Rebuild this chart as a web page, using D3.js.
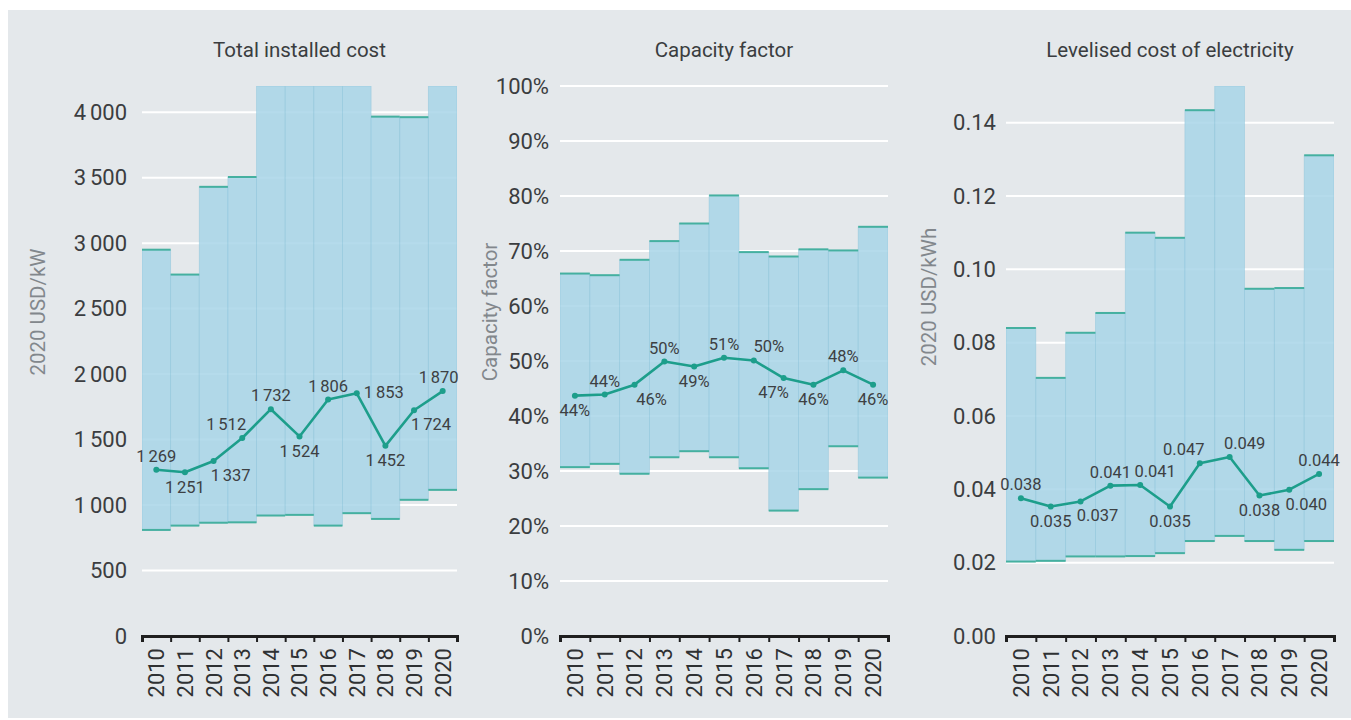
<!DOCTYPE html>
<html>
<head>
<meta charset="utf-8">
<script src="https://cdn.jsdelivr.net/npm/d3@7"></script>
<style>
  html, body { margin: 0; padding: 0; background: #ffffff; }
  svg { display: block; font-family: Roboto, "Open Sans", sans-serif; }
</style>
</head>
<body>
<svg id="chart" width="1351" height="720"></svg>
<script>
// Years shared by all three panels
const years = ["2010", "2011", "2012", "2013", "2014", "2015", "2016", "2017", "2018", "2019", "2020"];

// Total installed cost (2020 USD/kW): 5th / 95th percentile range and weighted average
const costLow  = [810, 843, 865, 868, 920, 925, 843, 938, 894, 1040, 1116];
const costHigh = [2950, 2760, 3430, 3505, 4200, 4200, 4200, 4200, 3966, 3962, 4200];
const costAvg  = [1269, 1251, 1337, 1512, 1732, 1524, 1806, 1853, 1452, 1724, 1870];
const costTicks = [0, 500, 1000, 1500, 2000, 2500, 3000, 3500, 4000];

// Capacity factor
const cfLow  = [0.307, 0.313, 0.295, 0.325, 0.336, 0.325, 0.305, 0.228, 0.267, 0.345, 0.288];
const cfHigh = [0.659, 0.656, 0.684, 0.718, 0.750, 0.801, 0.698, 0.690, 0.703, 0.701, 0.744];
const cfAvg  = [0.437, 0.439, 0.457, 0.499, 0.490, 0.506, 0.501, 0.469, 0.457, 0.483, 0.457];
const cfTicks = [0, 0.1, 0.2, 0.3, 0.4, 0.5, 0.6, 0.7, 0.8, 0.9, 1.0];

// Levelised cost of electricity (2020 USD/kWh)
const lcoeLow  = [0.0203, 0.0205, 0.0217, 0.0217, 0.0218, 0.0226, 0.0259, 0.0273, 0.0259, 0.0235, 0.0259];
const lcoeHigh = [0.0840, 0.0704, 0.0827, 0.0881, 0.1100, 0.1086, 0.1434, 0.1500, 0.0947, 0.0949, 0.1311];
const lcoeAvg  = [0.0376, 0.0353, 0.0367, 0.0410, 0.0412, 0.0353, 0.0471, 0.0488, 0.0383, 0.0399, 0.0442];
const lcoeTicks = [0, 0.02, 0.04, 0.06, 0.08, 0.10, 0.12, 0.14];

// Where each average label sits relative to its point
const costLabelPos = ["above", "below", "below-right", "above-left", "above", "below", "above", "right", "below", "below-right", "above"];
const cfLabelPos   = ["below", "above", "below-right", "above", "below", "above", "above-right", "below-left", "below", "above", "below"];
const lcoeLabelPos = ["above", "below", "below-right", "above", "above-right", "below", "above-left", "above-right", "below", "below-right", "above"];

// Thousands grouped with a narrow gap, e.g. "1 269"
const thinLocale = d3.formatLocale({ decimal: ".", thousands: "\u2006", grouping: [3], currency: ["", ""] });
const fmtCost = thinLocale.format(",d");
const fmtPct = d3.format(".0%");
const fmt3 = d3.format(".3f");
const fmt2 = d3.format(".2f");

const svg = d3.select("#chart");

// Panel background
svg.append("rect")
  .attr("x", 8).attr("y", 10)
  .attr("width", 1343).attr("height", 708)
  .attr("fill", "#e4e8eb");

const TOP = 86, BOTTOM = 636;

const placement = {
  "above":       [0, -13.5],
  "below":       [0, 15],
  "below-right": [17, 14.5],
  "below-left":  [-10, 14.5],
  "above-left":  [-16, -13.5],
  "above-right": [15, -13.5],
  "right":       [27, -1]
};

function drawPanel(p, idx) {
  const g = svg.append("g");
  const x = d3.scaleBand().domain(years).range([p.x0, p.x1]).padding(0);
  const xEdge = d3.scaleLinear().domain([0, years.length]).range([p.x0, p.x1]);
  const y = d3.scaleLinear().domain([0, p.max]).range([BOTTOM, TOP]);

  const clipId = "clip" + idx;
  g.append("clipPath").attr("id", clipId)
    .append("rect")
    .attr("x", p.x0).attr("y", TOP)
    .attr("width", p.x1 - p.x0).attr("height", BOTTOM - TOP);

  // Title
  g.append("text")
    .attr("x", (p.x0 + p.x1) / 2).attr("y", 57)
    .attr("text-anchor", "middle")
    .attr("font-size", 20.5)
    .attr("fill", "#3a3d40")
    .text(p.title);

  // Axis title
  g.append("text")
    .attr("transform", `translate(${p.titleX},${p.titleY}) rotate(-90)`)
    .attr("text-anchor", "middle")
    .attr("dominant-baseline", "central")
    .attr("font-size", 20.5)
    .attr("fill", "#82878c")
    .text(p.yTitle);

  // Grid lines
  g.append("g").selectAll("line")
    .data(p.ticks.filter(t => t > 0))
    .join("line")
    .attr("x1", p.x0).attr("x2", p.x1)
    .attr("y1", d => y(d)).attr("y2", d => y(d))
    .attr("stroke", "#ffffff").attr("stroke-width", 2);

  // Y tick labels
  const yAxis = d3.axisLeft(y).tickValues(p.ticks).tickSize(0).tickPadding(0).tickFormat(p.tickFmt);
  const ya = g.append("g").attr("transform", `translate(${p.labelRight},0)`).call(yAxis);
  ya.select(".domain").remove();
  ya.selectAll("text")
    .attr("font-size", 22)
    .attr("font-family", "Roboto, sans-serif")
    .attr("fill", "#3b3d40");

  const rows = years.map((yr, i) => ({ yr, lo: p.low[i], hi: p.high[i], avg: p.avg[i], pos: p.pos[i] }));

  const body = g.append("g").attr("clip-path", `url(#${clipId})`);

  // Range bars
  body.selectAll("rect.range")
    .data(rows)
    .join("rect")
    .attr("class", "range")
    .attr("x", d => x(d.yr))
    .attr("width", x.bandwidth())
    .attr("y", d => y(Math.min(d.hi, p.max)))
    .attr("height", d => y(d.lo) - y(Math.min(d.hi, p.max)))
    .attr("fill", "#a8d5e8")
    .attr("fill-opacity", 0.85)
    .attr("stroke", "#8cc4da")
    .attr("stroke-opacity", 0.55)
    .attr("stroke-width", 0.8);

  // Upper and lower bound marks
  const caps = [];
  rows.forEach(d => {
    caps.push({ yr: d.yr, v: d.lo });
    if (d.hi < p.max) caps.push({ yr: d.yr, v: d.hi });
  });
  body.selectAll("line.cap")
    .data(caps)
    .join("line")
    .attr("class", "cap")
    .attr("x1", d => x(d.yr)).attr("x2", d => x(d.yr) + x.bandwidth())
    .attr("y1", d => y(d.v)).attr("y2", d => y(d.v))
    .attr("stroke", "#45b0a0").attr("stroke-width", 2);

  // Average line
  const line = d3.line().x(d => x(d.yr) + x.bandwidth() / 2).y(d => y(d.avg));
  g.append("path")
    .datum(rows)
    .attr("d", line)
    .attr("fill", "none")
    .attr("stroke", "#1d9e8b")
    .attr("stroke-width", 2.6)
    .attr("stroke-linejoin", "round");

  g.selectAll("circle.pt")
    .data(rows)
    .join("circle")
    .attr("class", "pt")
    .attr("cx", d => x(d.yr) + x.bandwidth() / 2)
    .attr("cy", d => y(d.avg))
    .attr("r", 3)
    .attr("fill", "#1d9e8b");

  // Average value labels
  g.selectAll("text.val")
    .data(rows)
    .join("text")
    .attr("class", "val")
    .attr("x", d => x(d.yr) + x.bandwidth() / 2 + placement[d.pos][0] + (p.labelShiftX ? p.labelShiftX(d) : 0))
    .attr("y", d => y(d.avg) + placement[d.pos][1])
    .attr("text-anchor", "middle")
    .attr("dominant-baseline", "central")
    .attr("font-size", 16.5)
    .attr("fill", "#3d4043")
    .text(d => p.valFmt(d.avg));

  // X axis: ticks on band edges, year labels at band centres
  const edgeAxis = d3.axisBottom(xEdge).tickValues(d3.range(0, years.length + 1)).tickSize(6).tickFormat("");
  const ea = g.append("g").attr("transform", `translate(0,${BOTTOM})`).call(edgeAxis);
  ea.select(".domain").attr("stroke", "#1f1f1f").attr("stroke-width", 3);
  ea.selectAll(".tick line").attr("stroke", "#1f1f1f").attr("stroke-width", 2);

  const yearAxis = d3.axisBottom(x).tickSize(0).tickPadding(0);
  const xa = g.append("g").attr("transform", `translate(0,${BOTTOM})`).call(yearAxis);
  xa.select(".domain").remove();
  xa.selectAll("text")
    .attr("transform", "rotate(-90)")
    .attr("text-anchor", "end")
    .attr("x", -12)
    .attr("y", 0)
    .attr("dy", "0.36em")
    .attr("font-size", 22)
    .attr("font-family", "Roboto, sans-serif")
    .attr("fill", "#2f3133");
}

const panels = [
  {
    title: "Total installed cost", yTitle: "2020 USD/kW",
    x0: 142, x1: 457, max: 4200, labelRight: 127, titleX: 38, titleY: 312,
    low: costLow, high: costHigh, avg: costAvg, pos: costLabelPos,
    ticks: costTicks, tickFmt: fmtCost, valFmt: fmtCost,
    labelShiftX: d => d.yr === "2020" ? -4 : 0
  },
  {
    title: "Capacity factor", yTitle: "Capacity factor",
    x0: 560, x1: 888, max: 1.0, labelRight: 549, titleX: 490, titleY: 312,
    low: cfLow, high: cfHigh, avg: cfAvg, pos: cfLabelPos,
    ticks: cfTicks, tickFmt: fmtPct, valFmt: fmtPct
  },
  {
    title: "Levelised cost of electricity", yTitle: "2020 USD/kWh",
    x0: 1006, x1: 1334, max: 0.15, labelRight: 996, titleX: 929, titleY: 297,
    low: lcoeLow, high: lcoeHigh, avg: lcoeAvg, pos: lcoeLabelPos,
    ticks: lcoeTicks, tickFmt: fmt2, valFmt: fmt3
  }
];

panels.forEach(drawPanel);
</script>
</body>
</html>
